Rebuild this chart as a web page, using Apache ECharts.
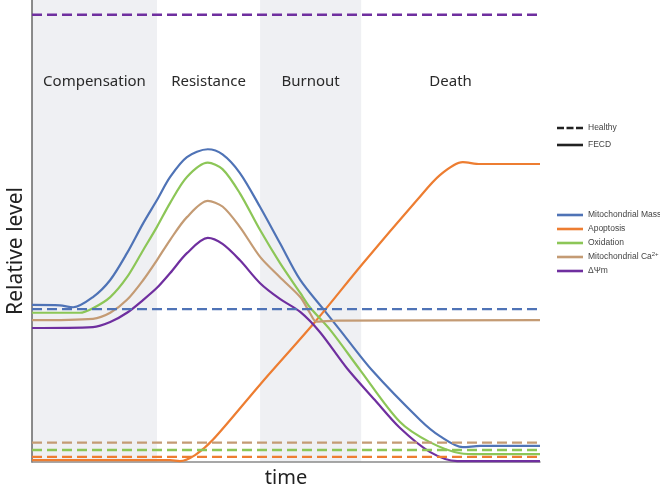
<!DOCTYPE html>
<html>
<head>
<meta charset="utf-8">
<script src="https://cdn.jsdelivr.net/npm/echarts@6/dist/echarts.min.js"></script>
<style>html,body{margin:0;padding:0;background:#fff;}#c{width:660px;height:493px;}</style>
</head>
<body>
<div id="c"></div>
<script>
// Phases (x in time units 0-100)
const phases = ['Compensation', 'Resistance', 'Burnout', 'Death'];
const phaseBounds = [0, 24.6, 44.9, 64.8, 100];
const phaseShaded = [true, false, true, false];

const seriesNames = ['Mitochondrial Mass', 'Apoptosis', 'Oxidation', 'Mitochondrial Ca2+', 'ΔΨm'];
const seriesColors = ['#4f73b6', '#ed7d31', '#8cc657', '#c49b74', '#6f2f9f'];

// FECD (solid) curves: [time, relative level]
const massFECD = [[0,34.0],[5.5,33.9],[8.1,33.5],[12,35.7],[15.4,39.4],[18.7,45.2],[21.9,51.7],[24.6,56.7],[27.2,61.7],[30.5,66.0],[34.6,67.7],[37.5,66.6],[40.9,62.6],[44.9,55.2],[48.8,47.4],[52.8,39.4],[57.7,32.6],[60.6,28.6],[66.9,19.9],[76.4,9.1],[80.3,5.6],[84.8,3.2],[88.2,3.5],[100,3.5]];
const apoptosisFECD = [[0,0.4],[27.2,0.4],[29.1,0.2],[32.1,1.5],[35.6,4.8],[45,16.9],[55.7,30.3],[65,42.8],[75.8,56.7],[80.3,62.1],[84.8,64.9],[88.2,64.5],[100,64.5]];
const oxidationFECD = [[0,32.3],[9.4,32.3],[12,33.3],[15.4,35.7],[18.7,40.0],[21.9,45.9],[24.6,50.9],[27.2,56.1],[30.5,61.7],[34.6,64.8],[37.5,63.4],[40.9,58.2],[44.9,50.2],[48.8,43.1],[52.8,36.6],[54.7,33.5],[58.7,28.6],[64.6,19.9],[72.4,8.7],[78.3,4.3],[84.3,1.9],[88.2,1.7],[100,1.7]];
const calciumFECD = [[0,30.7],[12,31.0],[15.4,32.3],[18.7,35.1],[21.9,39.4],[24.6,43.7],[27.2,48.1],[30.5,53.0],[34.6,56.5],[37.5,55.3],[40.9,50.9],[44.9,44.4],[48.8,40.0],[52.8,35.7],[54.7,32.3],[56,30.4],[60,30.6],[100,30.7]];
const psiFECD = [[0,29.0],[12,29.2],[15.4,30.3],[18.7,32.3],[21.9,35.1],[24.6,37.7],[27.2,40.9],[30.5,45.2],[34.6,48.5],[37.5,47.2],[40.9,43.7],[44.9,38.7],[48.8,35.3],[52.8,32.5],[56.7,28.1],[62.0,20.3],[67.5,13.4],[72.4,7.4],[78.3,2.2],[83.7,0.2],[100,0.2]];
const fecdData = [massFECD, apoptosisFECD, oxidationFECD, calciumFECD, psiFECD];

// Healthy (dashed) constant levels, same order as seriesNames
const healthyLevels = [33.1, 1.1, 2.6, 4.2, 96.8];

const FONT = 'Noto Sans';
const LEGEND_FONT = "'Liberation Sans'";

const markAreaData = phases.map((p, i) => [
  {
    name: p,
    xAxis: phaseBounds[i],
    itemStyle: { color: phaseShaded[i] ? '#eff0f3' : 'rgba(0,0,0,0)' }
  },
  { xAxis: phaseBounds[i + 1] }
]);

const series = [];
fecdData.forEach((d, i) => {
  const s = {
    name: seriesNames[i],
    type: 'line',
    data: d,
    smooth: 0.3,
    symbol: 'none',
    color: seriesColors[i],
    lineStyle: { width: 2.2, color: seriesColors[i] },
    z: 3
  };
  if (i === 0) {
    s.markArea = {
      silent: true,
      z: 0,
      label: {
        show: true,
        position: ['50%', 82],
        align: 'center',
        verticalAlign: 'middle',
        fontSize: 15,
        color: '#2a2a2a',
        fontFamily: FONT
      },
      data: markAreaData
    };
  }
  series.push(s);
});
healthyLevels.forEach((v, i) => {
  series.push({
    name: 'Healthy ' + seriesNames[i],
    type: 'line',
    data: [[0, v], [100, v]],
    symbol: 'none',
    color: seriesColors[i],
    lineStyle: { width: 2.4, type: [10, 5], color: seriesColors[i] },
    z: 4
  });
});
series.push({ name: 'Healthy', type: 'line', data: [], symbol: 'none', color: '#222' });
series.push({ name: 'FECD', type: 'line', data: [], symbol: 'none', color: '#222' });

const legendText = {
  fontSize: 8.5, color: '#444', fontFamily: LEGEND_FONT, lineHeight: 12,
  rich: { sup: { fontSize: 6, verticalAlign: 'top', lineHeight: 12, padding: [0, 0, 4, 0], color: '#444', fontFamily: LEGEND_FONT } }
};
const dashIcon = 'path://M0,0h7v1h-7zM9.5,0h7v1h-7zM19,0h7v1h-7z';

const option = {
  animation: false,
  backgroundColor: '#fff',
  grid: { left: 32, right: 120, top: 0, bottom: 31, outerBoundsMode: 'none', containLabel: false },
  xAxis: {
    type: 'value', min: 0, max: 100,
    axisLine: { lineStyle: { color: '#8a8a8a', width: 1.5 } },
    axisTick: { show: false }, axisLabel: { show: false }, splitLine: { show: false },
    name: 'time', nameLocation: 'middle', nameGap: 6,
    nameTextStyle: { fontSize: 20, color: '#222', fontFamily: FONT, verticalAlign: 'top' }
  },
  yAxis: {
    type: 'value', min: 0, max: 100,
    axisLine: { show: true, lineStyle: { color: '#666', width: 1.5 } },
    axisTick: { show: false }, axisLabel: { show: false }, splitLine: { show: false },
    name: 'Relative level', nameLocation: 'middle', nameGap: 5,
    nameTextStyle: { fontSize: 21, color: '#222', fontFamily: FONT, padding: [0, 40, 0, 0] }
  },
  legend: [
    {
      orient: 'vertical', left: 557, top: 122, padding: 0,
      itemWidth: 26, itemHeight: 2.6, itemGap: 5, symbolKeepAspect: false,
      textStyle: legendText,
      data: [{ name: 'Healthy', icon: dashIcon }, { name: 'FECD', icon: 'rect' }]
    },
    {
      orient: 'vertical', left: 557, top: 209, padding: 0,
      itemWidth: 26, itemHeight: 2.6, itemGap: 2, symbolKeepAspect: false,
      icon: 'rect',
      textStyle: legendText,
      formatter: function (n) { return n === 'Mitochondrial Ca2+' ? 'Mitochondrial Ca{sup|2+}' : n; },
      data: seriesNames
    }
  ],
  series: series
};

const chart = echarts.init(document.getElementById('c'), null, { renderer: 'canvas' });
chart.setOption(option);
</script>
</body>
</html>
